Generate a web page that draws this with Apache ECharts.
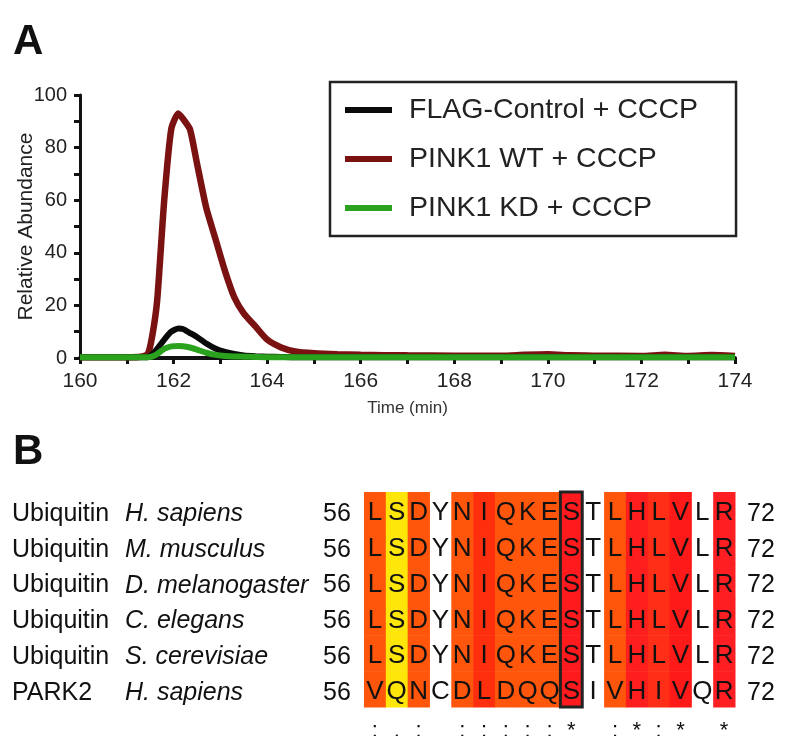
<!DOCTYPE html>
<html>
<head>
<meta charset="utf-8">
<script src="https://cdn.jsdelivr.net/npm/echarts@6/dist/echarts.min.js"></script>
<style>
html,body{margin:0;padding:0;background:#fff;}
#main{width:796px;height:736px;}
</style>
</head>
<body>
<div id="main"></div>
<script>
// ---------- Panel A data ----------
const timeMin = [160, 161, 161.3, 161.45, 161.55, 161.65, 161.8, 161.95, 162.1, 162.2, 162.35, 162.5, 162.7, 162.9, 163.1, 163.3, 163.5, 163.75, 164.0, 164.3, 164.6, 165.0, 165.5, 166, 167, 168, 169, 169.5, 170, 170.5, 171, 172, 172.5, 173, 173.5, 174];
const wtAbund = [0.3, 0.3, 0.5, 1.5, 9, 22, 60, 87, 93, 91, 87, 74, 57, 45, 33, 23, 17, 12, 7, 4, 2.5, 1.8, 1.4, 1.2, 1.0, 0.9, 0.9, 1.2, 1.4, 1.0, 0.9, 0.8, 1.2, 0.8, 1.1, 0.8];
const ctrlAbund = [0.3, 0.3, 0.3, 0.4, 1.5, 3.5, 7, 10, 11.2, 11, 9.5, 8, 5.5, 3.5, 2.3, 1.5, 1.0, 0.7, 0.5, 0.4, 0.3, 0.3, 0.3, 0.3, 0.3, 0.3, 0.3, 0.3, 0.3, 0.3, 0.3, 0.3, 0.3, 0.3, 0.3, 0.3];
const kdAbund = [0.3, 0.3, 0.3, 0.3, 0.6, 1.5, 3.5, 4.4, 4.6, 4.5, 4.0, 3.2, 2.0, 1.2, 0.8, 0.6, 0.5, 0.4, 0.3, 0.3, 0.3, 0.3, 0.3, 0.3, 0.3, 0.3, 0.3, 0.3, 0.3, 0.3, 0.3, 0.3, 0.3, 0.3, 0.3, 0.3];
const seriesNames = ['FLAG-Control + CCCP', 'PINK1 WT + CCCP', 'PINK1 KD + CCCP'];

// ---------- Panel B data ----------
const geneNames = ['Ubiquitin', 'Ubiquitin', 'Ubiquitin', 'Ubiquitin', 'Ubiquitin', 'PARK2'];
const speciesNames = ['H. sapiens', 'M. musculus', 'D. melanogaster', 'C. elegans', 'S. cerevisiae', 'H. sapiens'];
const startPos = ['56', '56', '56', '56', '56', '56'];
const endPos = ['72', '72', '72', '72', '72', '72'];
const sequences = [
  'LSDYNIQKESTLHLVLR',
  'LSDYNIQKESTLHLVLR',
  'LSDYNIQKESTLHLVLR',
  'LSDYNIQKESTLHLVLR',
  'LSDYNIQKESTLHLVLR',
  'VQNCDLDQQSIVHIVQR'
];
const positions = ['56','57','58','59','60','61','62','63','64','65','66','67','68','69','70','71','72'];
const conservation = [':', '.', ':', '', ':', ':', ':', ':', ':', '*', '', ':', '*', ':', '*', '', '*'];
const columnColors = ['#FF560C', '#FFE60A', '#FF560C', null, '#FF560C', '#FF2E0C', '#FF560C', '#FF560C', '#FF560C', '#FF1A1E', null, '#FF560C', '#FF1E1E', '#FF2E16', '#FF1A1A', null, '#FF1E22'];
const boxedColumn = 9;

const FONT = 'Liberation Sans, Arial, sans-serif';

const cellData = [];
sequences.forEach((seq, r) => {
  seq.split('').forEach((ch, c) => { cellData.push([c, r, ch]); });
});

const chart = echarts.init(document.getElementById('main'), null, {renderer: 'canvas'});

const labelPad = [8, 0, 0, 0];

const option = {
  animation: false,
  backgroundColor: '#ffffff',
  graphic: [
    {type: 'text', left: 13, top: 21, style: {text: 'A', font: 'bold 42px ' + FONT, fill: '#111'}},
    {type: 'text', left: 13, top: 431, style: {text: 'B', font: 'bold 42px ' + FONT, fill: '#111'}}
  ],
  legend: {
    orient: 'vertical',
    left: 330,
    top: 82,
    data: seriesNames,
    icon: 'rect',
    itemWidth: 47,
    itemHeight: 6,
    itemGap: 19,
    padding: [13, 38, 13, 15],
    borderColor: '#222',
    borderWidth: 2.5,
    borderRadius: 0,
    textStyle: {fontSize: 28.5, fontFamily: FONT, color: '#222', lineHeight: 30, padding: [0, 0, 0, 12]}
  },
  grid: [
    {left: 80, right: 61, top: 95, bottom: 378, containLabel: false, outerBoundsMode: 'none'},
    {left: 364, width: 371, top: 492, height: 215, containLabel: false, outerBoundsMode: 'none'}
  ],
  xAxis: [
    {
      gridIndex: 0, type: 'value', min: 160, max: 174, interval: 1,
      name: 'Time (min)', nameLocation: 'middle', nameGap: 42, nameMoveOverlap: false,
      nameTextStyle: {fontSize: 17, fontFamily: FONT, color: '#333'},
      axisLine: {show: true, onZero: false, lineStyle: {color: '#111', width: 4}},
      axisTick: {show: true, length: 6, lineStyle: {color: '#111', width: 3}},
      axisLabel: {fontSize: 21, fontFamily: FONT, color: '#222', margin: 13,
        formatter: v => (v % 2 === 0 ? String(v) : '')},
      splitLine: {show: false}
    },
    {
      gridIndex: 1, type: 'category', data: positions, position: 'bottom',
      axisLine: {show: false}, axisTick: {show: false}, splitLine: {show: false},
      axisLabel: {interval: 0, hideOverlap: false, fontSize: 22, lineHeight: 22, verticalAlign: 'top',
        fontFamily: FONT, color: '#111', margin: 13,
        formatter: (v, i) => conservation[i]}
    }
  ],
  yAxis: [
    {
      gridIndex: 0, type: 'value', min: 0, max: 100, interval: 10,
      name: 'Relative Abundance', nameLocation: 'middle', nameGap: 43, nameMoveOverlap: false,
      nameTextStyle: {fontSize: 21, fontFamily: FONT, color: '#222'},
      axisLine: {show: true, lineStyle: {color: '#111', width: 3}},
      axisTick: {show: true, length: 6, lineStyle: {color: '#111', width: 3}},
      axisLabel: {fontSize: 20, fontFamily: FONT, color: '#222', margin: 13,
        formatter: v => (v % 20 === 0 ? String(v) : '')},
      splitLine: {show: false}
    },
    {
      gridIndex: 1, type: 'category', data: geneNames.map((g, i) => String(i)), inverse: true,
      axisLine: {show: false}, axisTick: {show: false}, splitLine: {show: false},
      axisLabel: {
        interval: 0, margin: 14,
        formatter: (v, i) => '{g|' + geneNames[i] + '}{s|' + speciesNames[i] + '}{n|' + startPos[i] + '}',
        rich: {
          g: {width: 113, align: 'left', fontSize: 25, fontFamily: FONT, color: '#111', padding: labelPad},
          s: {width: 198, align: 'left', fontSize: 25, fontFamily: FONT, fontStyle: 'italic', color: '#111', padding: labelPad},
          n: {width: 27, align: 'left', fontSize: 25, fontFamily: FONT, color: '#111', padding: labelPad}
        }
      }
    },
    {
      gridIndex: 1, type: 'category', data: geneNames.map((g, i) => String(i)), inverse: true, position: 'right',
      axisLine: {show: false}, axisTick: {show: false}, splitLine: {show: false},
      axisLabel: {interval: 0, margin: 12,
        formatter: (v, i) => '{n|' + endPos[i] + '}',
        rich: {n: {fontSize: 25, fontFamily: FONT, color: '#111', padding: labelPad}}
      }
    }
  ],
  series: [
    {
      name: seriesNames[1], type: 'line', xAxisIndex: 0, yAxisIndex: 0,
      data: timeMin.map((t, i) => [t, wtAbund[i]]),
      showSymbol: false, symbol: 'none', smooth: 0.2, clip: false, z: 5,
      lineStyle: {color: '#7A1212', width: 6.5}, itemStyle: {color: '#7A1212'}
    },
    {
      name: seriesNames[0], type: 'line', xAxisIndex: 0, yAxisIndex: 0,
      data: timeMin.map((t, i) => [t, ctrlAbund[i]]),
      showSymbol: false, symbol: 'none', smooth: 0.2, clip: false, z: 6,
      lineStyle: {color: '#0a0a0a', width: 6}, itemStyle: {color: '#0a0a0a'}
    },
    {
      name: seriesNames[2], type: 'line', xAxisIndex: 0, yAxisIndex: 0,
      data: timeMin.map((t, i) => [t, kdAbund[i]]),
      showSymbol: false, symbol: 'none', smooth: 0.2, clip: false, z: 7,
      lineStyle: {color: '#2AA21E', width: 6}, itemStyle: {color: '#2AA21E'}
    },
    {
      type: 'custom', xAxisIndex: 1, yAxisIndex: 1, data: cellData, clip: false,
      renderItem: (params, api) => {
        const c = api.value(0), r = api.value(1);
        const ch = cellData[params.dataIndex][2];
        const p = api.coord([c, r]);
        const s = api.size([1, 1]);
        const children = [];
        const col = columnColors[c];
        if (col) {
          children.push({type: 'rect', shape: {x: p[0] - s[0] / 2, y: p[1] - s[1] / 2, width: s[0] + 0.5, height: s[1] + 0.5},
            style: {fill: col}});
        }
        children.push({type: 'text', style: {text: ch, x: p[0], y: p[1] + 3, align: 'center', verticalAlign: 'middle',
          font: '26px ' + FONT, fill: '#111'}});
        return {type: 'group', children};
      }
    },
    {
      type: 'custom', xAxisIndex: 1, yAxisIndex: 1, data: [[boxedColumn]], clip: false, z: 10,
      renderItem: (params, api) => {
        const top = api.coord([api.value(0), 0]);
        const bot = api.coord([api.value(0), sequences.length - 1]);
        const s = api.size([1, 1]);
        return {type: 'rect', shape: {x: top[0] - s[0] / 2, y: top[1] - s[1] / 2, width: s[0], height: bot[1] - top[1] + s[1]},
          style: {fill: 'none', stroke: '#222', lineWidth: 3}};
      }
    }
  ]
};
chart.setOption(option);
</script>
</body>
</html>
